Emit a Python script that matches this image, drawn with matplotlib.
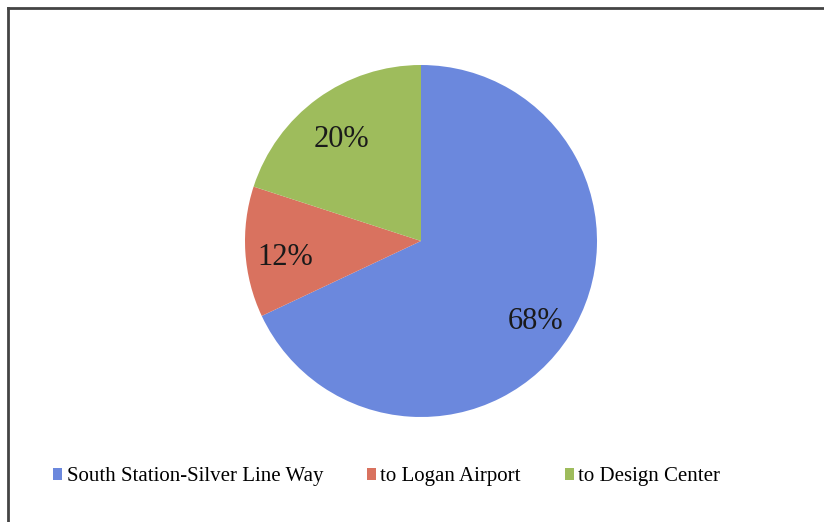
import matplotlib.pyplot as plt
from matplotlib.lines import Line2D
from matplotlib.transforms import offset_copy

# ridership split by route
routes = ["South Station-Silver Line Way", "to Logan Airport", "to Design Center"]
shares = [68, 12, 20]
colors = ["#6b88dd", "#d9725f", "#9ebc5c"]

plt.rcParams["font.family"] = ["Liberation Serif", "DejaVu Serif"]

W, H = 824, 522
fig = plt.figure(figsize=(W / 100, H / 100), dpi=100)

# pie centre and radius in pixels
cx, cy, r = 421, 241, 176
ax = fig.add_axes([(cx - r) / W, (H - cy - r) / H, 2 * r / W, 2 * r / H])
wedges, texts, autotexts = ax.pie(
    shares, colors=colors, startangle=90, counterclock=False,
    autopct="%d%%", pctdistance=0.77,
    textprops=dict(fontsize=22, color="#1a1a1a"),
)
ax.set_xlim(-1, 1)
ax.set_ylim(-1, 1)

# nudge percentage labels slightly down
shift = offset_copy(ax.transData, fig=fig, y=-8, units="dots")
for t in autotexts:
    t.set_transform(shift)

# chart frame (top and left edges)
fig.add_artist(Line2D([8 / W, 1], [1 - 8 / H, 1 - 8 / H], color="#444444", lw=2))
fig.add_artist(Line2D([8 / W, 8 / W], [1 - 8 / H, 0], color="#444444", lw=2))

fig.legend(
    wedges, routes, loc="center left", bbox_to_anchor=(53 / W, 1 - 477 / H),
    ncol=3, frameon=False, fontsize=15, handlelength=0.45, handleheight=0.45,
    handletextpad=0.2, columnspacing=2.1, borderaxespad=0, borderpad=0,
)

fig.savefig("out.png", dpi=100, facecolor="white")
